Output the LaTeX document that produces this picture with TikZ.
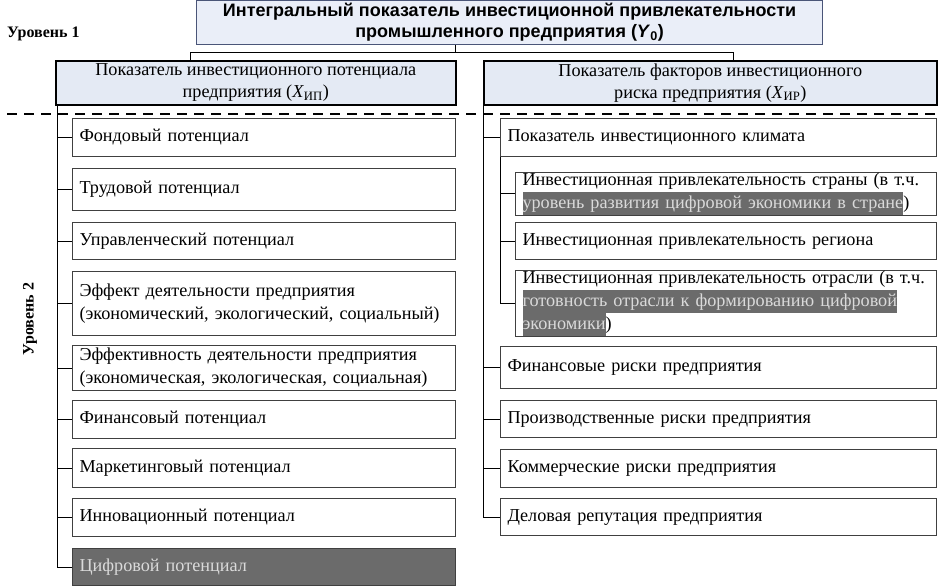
\documentclass[tikz,border=0pt]{standalone}
\usepackage{fontspec}
\setmainfont{Liberation Serif}
\newfontfamily\titlefont{Liberation Sans}
\usetikzlibrary{positioning}
\definecolor{topfill}{HTML}{EAEEF8}
\definecolor{topdraw}{HTML}{4A5578}
\definecolor{lvfill}{HTML}{E4EAF4}
\definecolor{dkgrey}{HTML}{6B6B6B}
\definecolor{hltext}{HTML}{DADADA}
\newcommand{\hlt}[1]{{\setlength{\fboxsep}{0pt}\colorbox{dkgrey}{\strut\textcolor{hltext}{#1}}}}
\tikzset{
  conn/.style={draw=black, line width=0.8pt},
  itembox/.style={draw=black!75, line width=1pt, fill=white, anchor=north west,
    inner xsep=7pt, inner ysep=0pt, align=left,
    font=\fontsize{18.2}{23}\selectfont},
  lvbox/.style={draw=black, line width=1.6pt, fill=lvfill, anchor=north west,
    inner xsep=4pt, inner ysep=0pt, align=center,
    font=\fontsize{18.2}{22}\selectfont},
  lvlabel/.style={font=\bfseries\fontsize{16}{18}\selectfont, inner sep=0pt}
}
\begin{document}
\begin{tikzpicture}[x=1pt,y=-1pt]
\useasboundingbox (0,0) rectangle (939,586);
% top
\node[draw=topdraw, line width=1.2pt, fill=topfill, anchor=north west,
  minimum width=626pt, minimum height=44pt, inner sep=0pt, align=center,
  font=\titlefont\bfseries\fontsize{18}{21}\selectfont] (top) at (196,0)
  {Интегральный показатель инвестиционной привлекательности\\
   промышленного предприятия (\textit{Y}\textsubscript{0})};
\node[lvlabel, anchor=west] (lev1) at (7,34) {Уровень 1};
\node[lvlabel, rotate=90] (lev2) at (30,319) {Уровень 2};
% level 1 boxes
\node[lvbox, minimum width=400pt, minimum height=44pt] (lp) at (55,60)
  {Показатель инвестиционного потенциала\\ предприятия (\textit{X}\textsubscript{ИП})};
\node[lvbox, minimum width=453pt, minimum height=44pt] (rp) at (483,60)
  {Показатель факторов инвестиционного\\ риска предприятия (\textit{X}\textsubscript{ИР})};
% bus
\coordinate (bM) at (455,52);
\coordinate (bL) at (190,52);
\coordinate (bR) at (733,52);
\draw[conn] (top.south -| bM) -- (bM);
\draw[conn] (lp.north -| bL) -- (bL) -- (bR) -- (rp.north -| bR);
% dashed
\draw[line width=2.4pt, dash pattern=on 10pt off 7pt] (7,114) -- (939,114);
% left items
\node[itembox, minimum width=383pt, text width=369pt, minimum height=38pt] (l1) at (72,118) {Фондовый потенциал};
\node[itembox, minimum width=383pt, text width=369pt, minimum height=42pt] (l2) at (72,168) {Трудовой потенциал};
\node[itembox, minimum width=383pt, text width=369pt, minimum height=37pt] (l3) at (72,222) {Управленческий потенциал};
\node[itembox, minimum width=383pt, text width=369pt, minimum height=64pt] (l4) at (72,271) {Эффект деятельности предприятия\\(экономический, экологический, социальный)};
\node[itembox, minimum width=383pt, text width=369pt, minimum height=45pt] (l5) at (72,345) {Эффективность деятельности предприятия\\(экономическая, экологическая, социальная)};
\node[itembox, minimum width=383pt, text width=369pt, minimum height=38pt] (l6) at (72,400) {Финансовый потенциал};
\node[itembox, minimum width=383pt, text width=369pt, minimum height=39pt] (l7) at (72,448) {Маркетинговый потенциал};
\node[itembox, minimum width=383pt, text width=369pt, minimum height=38pt] (l8) at (72,498) {Инновационный потенциал};
\node[itembox, minimum width=383pt, text width=369pt, minimum height=37pt, fill=dkgrey, text=hltext] (l9) at (72,548) {Цифровой потенциал};
% left trunk
\coordinate (tL) at (57,0);
\draw[conn] (lp.south -| tL) -- (tL |- l9.west) -- (l9.west);
\foreach \n in {l1,l2,l3,l4,l5,l6,l7,l8}
  \draw[conn] (tL |- \n.west) -- (\n.west);
% right items
\node[itembox, minimum width=436pt, text width=422pt, minimum height=38pt] (r0) at (500,118) {Показатель инвестиционного климата};
\node[itembox, minimum width=421pt, text width=407pt, minimum height=38pt] (s1) at (515,172) {Инвестиционная привлекательность страны (в т.ч.\\\hlt{уровень развития цифровой экономики в стране})};
\node[itembox, minimum width=421pt, text width=407pt, minimum height=37pt] (s2) at (515,222) {Инвестиционная привлекательность региона};
\node[itembox, minimum width=421pt, text width=407pt, minimum height=65pt] (s3) at (515,270) {Инвестиционная привлекательность отрасли (в т.ч.\\\hlt{готовность отрасли к формированию цифровой}\\\hlt{экономики})};
\node[itembox, minimum width=436pt, text width=422pt, minimum height=42pt] (r1) at (500,346) {Финансовые риски предприятия};
\node[itembox, minimum width=436pt, text width=422pt, minimum height=37pt] (r2) at (500,400) {Производственные риски предприятия};
\node[itembox, minimum width=436pt, text width=422pt, minimum height=38pt] (r3) at (500,449) {Коммерческие риски предприятия};
\node[itembox, minimum width=436pt, text width=422pt, minimum height=37pt] (r4) at (500,498) {Деловая репутация предприятия};
% right trunk
\coordinate (tR) at (483,0);
\draw[conn] (rp.south -| tR) -- (tR |- r4.west) -- (r4.west);
\foreach \n in {r0,r1,r2,r3}
  \draw[conn] (tR |- \n.west) -- (\n.west);
% inner trunk
\draw[conn] (r0.south west) -- (r0.south west |- s3.west) -- (s3.west);
\foreach \n in {s1,s2}
  \draw[conn] (r0.south west |- \n.west) -- (\n.west);
\end{tikzpicture}
\end{document}
